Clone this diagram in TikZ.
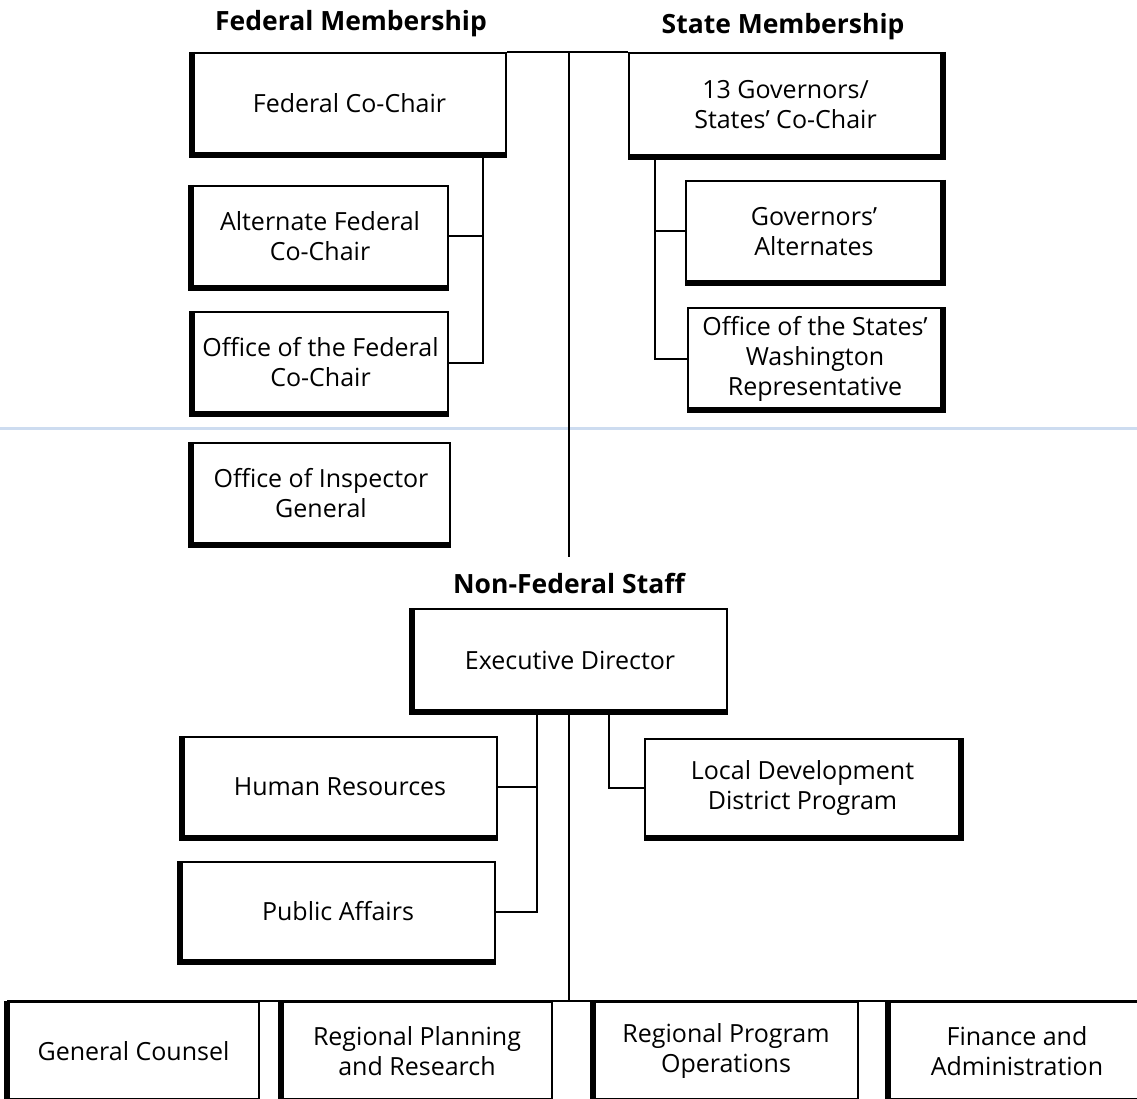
\documentclass[tikz,border=0pt]{standalone}
\usepackage{fontspec}
\setmainfont{Open Sans}

\tikzset{every picture/.style={line width=2pt}}
\tikzset{
  unit/.style={draw, line width=2pt, align=center, inner sep=0pt, font=\fontsize{25}{30}\selectfont},
  head/.style={inner sep=0pt, font=\fontsize{26.5}{30}\selectfont\bfseries},
  heavy/.style={line width=5.5pt, line cap=butt, line join=miter}
}

\begin{document}
\begin{tikzpicture}[x=1pt,y=1pt,yscale=-1,xscale=1]
\useasboundingbox (0,0) rectangle (1137,1099);

%faint fold line
\draw [line width=3pt, color={rgb, 255:red, 205; green, 220; blue, 240 }] (0,428) -- (1137,428) ;

%headings
\node [head] (fedhead) at (351,24) {Federal Membership};
\node [head] (statehead) at (783,27) {State Membership};
\node [head] (staffhead) at (569,583) {Non-Federal Staff};

%federal side
\node [unit, minimum width=313pt, minimum height=101pt] (fedchair) at (349.5,103.5) {Federal Co-Chair};
\node [unit, minimum width=256pt, minimum height=101pt] (altfed) at (320,236.5) {Alternate Federal\\Co-Chair};
\node [unit, minimum width=255pt, minimum height=101pt] (offfed) at (320.5,362.5) {Office of the Federal\\Co-Chair};
\node [unit, minimum width=258pt, minimum height=101pt] (inspgen) at (321,493.5) {Office of Inspector\\General};

%state side
\node [unit, minimum width=313pt, minimum height=103pt] (govchair) at (785.5,104.5) {13 Governors/\\States' Co-Chair};
\node [unit, minimum width=256pt, minimum height=101pt] (govalt) at (814,231.5) {Governors'\\Alternates};
\node [unit, minimum width=254pt, minimum height=101pt] (offstate) at (815,358.5) {Office of the States'\\Washington\\Representative};

%staff
\node [unit, minimum width=314pt, minimum height=102pt] (execdir) at (570,660) {Executive Director};
\node [unit, minimum width=314pt, minimum height=100pt] (humres) at (340,787) {Human Resources};
\node [unit, minimum width=314pt, minimum height=99pt] (pubaff) at (338,911.5) {Public Affairs};
\node [unit, minimum width=315pt, minimum height=98pt] (localdev) at (802.5,788) {Local Development\\District Program};

%bottom row
\node [unit, minimum width=251pt, minimum height=98pt] (gencoun) at (133.5,1051) {General Counsel};
\node [unit, minimum width=270pt, minimum height=98pt] (regplan) at (417,1051) {Regional Planning\\and Research};
\node [unit, minimum width=264pt, minimum height=98pt] (regprog) at (726,1051) {Regional Program\\Operations};
\node [unit, minimum width=256pt, minimum height=98pt] (finance) at (1017,1051) {Finance and\\Administration};

%heavy edges
\foreach \n in {fedchair,altfed,offfed,inspgen,execdir,humres,pubaff,gencoun,regplan,regprog,finance}
  \draw [heavy] (\n.north west) -- (\n.south west) -- (\n.south east) ;
\foreach \n in {govchair,govalt,offstate,localdev}
  \draw [heavy] (\n.north east) -- (\n.south east) -- (\n.south west) ;

%bus lines
\coordinate (fedbus) at (483,0);
\coordinate (statebus) at (655,0);
\coordinate (midbus) at (569,0);
\coordinate (leftbus) at (537,0);
\coordinate (rightbus) at (609,0);
\coordinate (midstop) at (569,557);

\draw (fedchair.north east) -- (govchair.north west) ;
\draw (fedchair.north east -| midbus) -- (midstop) ;
\draw (fedchair.south -| fedbus) -- (offfed.east -| fedbus) -- (offfed.east) ;
\draw (altfed.east) -- (altfed.east -| fedbus) ;
\draw (govchair.south -| statebus) -- (offstate.west -| statebus) -- (offstate.west) ;
\draw (govalt.west) -- (govalt.west -| statebus) ;
\draw (execdir.south -| leftbus) -- (pubaff.east -| leftbus) -- (pubaff.east) ;
\draw (humres.east) -- (humres.east -| leftbus) ;
\draw (execdir.south -| rightbus) -- (localdev.west -| rightbus) -- (localdev.west) ;
\draw (execdir.south -| midbus) -- (gencoun.north -| midbus) ;
\draw (gencoun.north west) -- (finance.north east) ;

\end{tikzpicture}
\end{document}
